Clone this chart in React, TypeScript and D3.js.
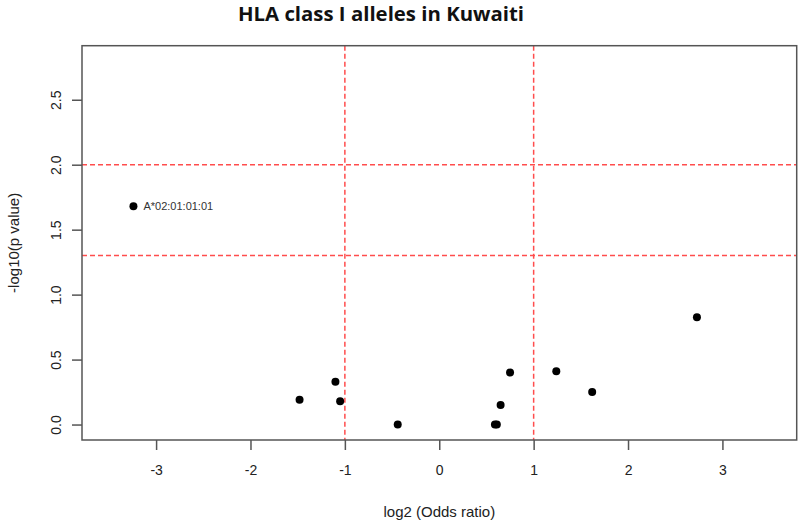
import * as d3 from "d3";
import React, { useRef, useEffect } from "react";

// log2 odds ratio vs -log10 p value
const logOR = [-3.24, -1.48, -1.1, -1.05, -0.44, 0.59, 0.61, 0.65, 0.75, 1.24, 1.62, 2.73];
const negLogP = [1.68, 0.19, 0.33, 0.18, 0.0, 0.0, 0.0, 0.15, 0.4, 0.41, 0.25, 0.825];
const labels = ["A*02:01:01:01", "", "", "", "", "", "", "", "", "", "", ""];

const xTicks = [-3, -2, -1, 0, 1, 2, 3];
const yTicks = [0, 0.5, 1, 1.5, 2, 2.5];
const xCutoffs = [-1, 1];
const yCutoffs = [2, 1.301];

const App = () => {
    const svgRef = useRef(null);

    useEffect(() => {
        const width = 800;
        const height = 525;
        const marginLeft = 82;
        const marginRight = 3.3;
        const marginTop = 45.7;
        const marginBottom = 85;

        const x = d3.scaleLinear()
            .domain([-3.785, 3.787])
            .range([marginLeft, width - marginRight]);

        const y = d3.scaleLinear()
            .domain([-0.119, 2.916])
            .range([height - marginBottom, marginTop]);

        const font = "'Liberation Sans', Arial, sans-serif";
        const axisColor = "#555";

        const svg = d3.select(svgRef.current);
        svg.selectAll("*").remove();

        svg.append("rect")
            .attr("width", width)
            .attr("height", height)
            .attr("fill", "#fff");

        // cutoff lines
        svg.append("g")
            .selectAll("line")
            .data(xCutoffs)
            .join("line")
            .attr("x1", d => x(d))
            .attr("x2", d => x(d))
            .attr("y1", y.range()[1])
            .attr("y2", y.range()[0])
            .attr("stroke", "#ff4d4d")
            .attr("stroke-width", 1.5)
            .attr("stroke-dasharray", "5,3");

        svg.append("g")
            .selectAll("line")
            .data(yCutoffs)
            .join("line")
            .attr("x1", x.range()[0])
            .attr("x2", x.range()[1])
            .attr("y1", d => y(d))
            .attr("y2", d => y(d))
            .attr("stroke", "#ff4d4d")
            .attr("stroke-width", 1.5)
            .attr("stroke-dasharray", "5,3");

        // box
        svg.append("rect")
            .attr("x", x.range()[0])
            .attr("y", y.range()[1])
            .attr("width", x.range()[1] - x.range()[0])
            .attr("height", y.range()[0] - y.range()[1])
            .attr("fill", "none")
            .attr("stroke", axisColor)
            .attr("stroke-width", 1.5);

        // x axis
        const xAxis = svg.append("g")
            .attr("transform", `translate(0,${y.range()[0]})`)
            .call(d3.axisBottom(x).tickValues(xTicks).tickSize(10).tickPadding(15).tickFormat(d3.format("d")));
        xAxis.select(".domain").remove();
        xAxis.selectAll(".tick line").attr("stroke", axisColor).attr("stroke-width", 1.5);
        xAxis.selectAll(".tick text")
            .attr("font-family", font)
            .attr("font-size", 14)
            .attr("fill", "#222")
            .text(d => d3.format("d")(d).replace("−", "-"));

        // y axis, labels rotated like R
        const yAxis = svg.append("g")
            .attr("transform", `translate(${x.range()[0]},0)`)
            .call(d3.axisLeft(y).tickValues(yTicks).tickSize(10).tickFormat(d3.format(".1f")));
        yAxis.select(".domain").remove();
        yAxis.selectAll(".tick line").attr("stroke", axisColor).attr("stroke-width", 1.5);
        yAxis.selectAll(".tick text")
            .attr("font-family", font)
            .attr("font-size", 14)
            .attr("fill", "#222")
            .attr("x", null)
            .attr("dy", null)
            .attr("text-anchor", "middle")
            .attr("transform", "translate(-26,0) rotate(-90)")
            .attr("dy", "0.35em");

        // points
        const points = logOR.map((v, i) => ({ x: v, y: negLogP[i], label: labels[i] }));
        svg.append("g")
            .selectAll("circle")
            .data(points)
            .join("circle")
            .attr("cx", d => x(d.x))
            .attr("cy", d => y(d.y))
            .attr("r", 4)
            .attr("fill", "#000");

        svg.append("g")
            .selectAll("text")
            .data(points.filter(d => d.label))
            .join("text")
            .attr("x", d => x(d.x) + 10)
            .attr("y", d => y(d.y))
            .attr("dy", "0.35em")
            .attr("font-family", font)
            .attr("font-size", 11)
            .attr("fill", "#333")
            .text(d => d.label);

        // titles
        svg.append("text")
            .attr("x", 381)
            .attr("y", 21)
            .attr("text-anchor", "middle")
            .attr("font-family", "'Open Sans', sans-serif")
            .attr("font-weight", "bold")
            .attr("font-size", 19)
            .attr("textLength", 286)
            .attr("lengthAdjust", "spacingAndGlyphs")
            .attr("fill", "#111")
            .text("HLA class I alleles in Kuwaiti");

        svg.append("text")
            .attr("x", (x.range()[0] + x.range()[1]) / 2)
            .attr("y", 517)
            .attr("text-anchor", "middle")
            .attr("font-family", font)
            .attr("font-size", 15)
            .attr("fill", "#222")
            .text("log2 (Odds ratio)");

        svg.append("text")
            .attr("transform", `translate(19,${(y.range()[0] + y.range()[1]) / 2}) rotate(-90)`)
            .attr("text-anchor", "middle")
            .attr("font-family", font)
            .attr("font-size", 15)
            .attr("fill", "#222")
            .text("-log10(p value)");
    }, []);

    return (
        <svg
            ref={svgRef}
            width={800}
            height={525}
            style={{ position: "absolute", left: 0, top: 0 }}
        />
    );
};

export default App;
